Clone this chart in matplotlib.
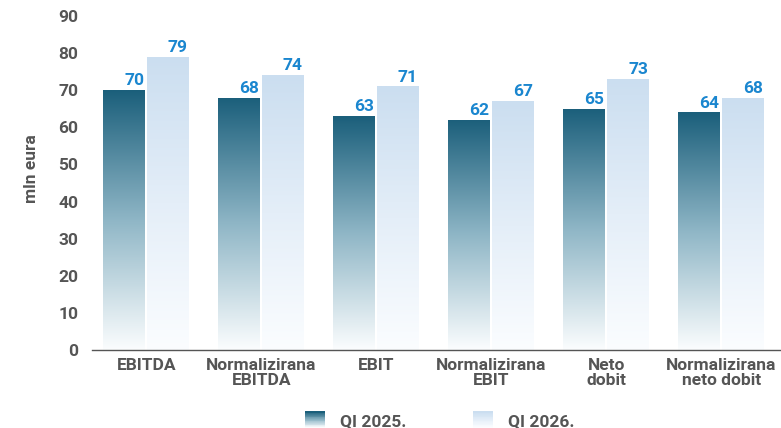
import numpy as np
import matplotlib.pyplot as plt
from matplotlib.colors import LinearSegmentedColormap
from matplotlib.legend_handler import HandlerBase
from matplotlib.patches import Rectangle, Patch

plt.rcParams['font.family'] = ['Roboto', 'DejaVu Sans']

# Podaci
kategorije = ['EBITDA', 'Normalizirana\nEBITDA', 'EBIT', 'Normalizirana\nEBIT',
              'Neto\ndobit', 'Normalizirana\nneto dobit']
qi_2025 = [70, 68, 63, 62, 65, 64]
qi_2026 = [79, 74, 71, 67, 73, 68]
serije = ['QI 2025.', 'QI 2026.']

# gradijenti (dno -> vrh)
cmap_tamna = LinearSegmentedColormap.from_list('t', ['#fbfdfe', '#8fb6c6', '#1b5f7b'])
cmap_svijetla = LinearSegmentedColormap.from_list('s', ['#fbfdff', '#e4eef8', '#cbdef0'])
plava = '#1a86cf'
siva = '#555555'
vel = 12.5

fig = plt.figure(figsize=(7.81, 4.28), dpi=100)
ax = fig.add_axes([0.118, 0.182, 0.882, 0.781])

x = np.arange(len(kategorije))
sirina = 0.365
pomak = 0.19

grad = np.linspace(0, 1, 256).reshape(-1, 1)


def gradijent_stupci(stupci, cmap):
    for s in stupci:
        s.set_facecolor('none')
        s.set_edgecolor('none')
        x0, y0 = s.get_x(), s.get_y()
        w, h = s.get_width(), s.get_height()
        img = ax.imshow(grad, cmap=cmap, aspect='auto', origin='lower',
                        extent=[x0, x0 + w, y0, y0 + h], zorder=2)
        img.set_clip_path(s)


b1 = ax.bar(x - pomak, qi_2025, sirina)
b2 = ax.bar(x + pomak, qi_2026, sirina)
gradijent_stupci(b1, cmap_tamna)
gradijent_stupci(b2, cmap_svijetla)

for stupci, vrijednosti in [(b1, qi_2025), (b2, qi_2026)]:
    for s, v in zip(stupci, vrijednosti):
        ax.text(s.get_x() + s.get_width() - 0.01, v + 0.5, str(v), ha='right', va='bottom',
                color=plava, fontsize=vel, fontweight='bold')

ax.set_xlim(-0.47, 5.52)
ax.set_ylim(0, 90)
ax.set_yticks(range(0, 91, 10))
ax.set_xticks(x)
ax.set_xticklabels(kategorije, linespacing=1.0)
ax.tick_params(axis='both', length=0, labelsize=vel, labelcolor=siva)
ax.tick_params(axis='y', pad=10)
ax.tick_params(axis='x', pad=6)
for lbl in ax.get_xticklabels() + ax.get_yticklabels():
    lbl.set_fontweight('bold')
for sp in ['top', 'right', 'left']:
    ax.spines[sp].set_visible(False)
ax.spines['bottom'].set_color('#555555')
ax.spines['bottom'].set_linewidth(1.0)
ax.set_ylabel('mln eura', fontsize=12.5, fontweight='bold', color=siva)
ax.yaxis.set_label_coords(-0.077, 0.542)


class HandlerGradijent(HandlerBase):
    def __init__(self, cmap):
        super().__init__()
        self.cmap = cmap

    def create_artists(self, legend, orig_handle, xdescent, ydescent, width, height,
                       fontsize, trans):
        n = 20
        umjetnine = []
        for i in range(n):
            r = Rectangle((-xdescent, -ydescent + height * i / n), width, height / n + 0.3,
                          facecolor=self.cmap(i / (n - 1)), edgecolor='none', transform=trans)
            umjetnine.append(r)
        return umjetnine


h1 = Patch(label=serije[0])
h2 = Patch(label=serije[1])
leg = fig.legend(handles=[h1, h2], labels=serije, loc='center', bbox_to_anchor=(0.563, 0.018),
                 ncol=2, frameon=False, columnspacing=3.8, handlelength=1.2,
                 handleheight=1.05, handletextpad=0.86, borderpad=0,
                 handler_map={h1: HandlerGradijent(cmap_tamna), h2: HandlerGradijent(cmap_svijetla)},
                 prop={'weight': 'bold', 'size': vel})
for t in leg.get_texts():
    t.set_color(siva)

fig.savefig('out.png', dpi=100)
